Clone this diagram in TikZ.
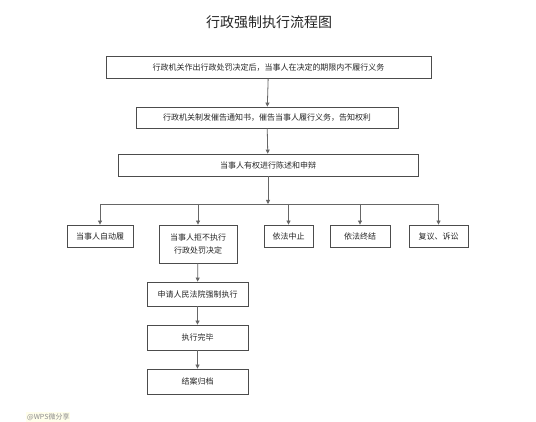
\documentclass[tikz,border=0pt]{standalone}
\usepackage{fontspec}
\setmainfont{Noto Sans CJK SC}
\usetikzlibrary{arrows.meta}
\begin{document}
\begin{tikzpicture}[x=1pt,y=-1pt,
  box/.style={draw=black!70,line width=0.8pt,fill=white,font=\fontsize{8}{10}\selectfont,text=black!85,inner sep=0pt,align=center},
  conn/.style={draw=black!60,line width=0.8pt},
  arr/.style={conn,-{Triangle[length=4pt,width=4pt]}}]
\useasboundingbox[fill=white] (0,0) rectangle (536,422);
\node[font=\fontsize{14}{16}\selectfont,text=black!85] (title) at (269,22) {行政强制执行流程图};
\node[box,minimum width=325,minimum height=21.5] (b1) at (268.5,67.5) {行政机关作出行政处罚决定后，当事人在决定的期限内不履行义务};
\node[box,minimum width=262,minimum height=21] (b2) at (267,117.5) {行政机关制发催告通知书，催告当事人履行义务，告知权利};
\node[box,minimum width=300,minimum height=22] (b3) at (268,165) {当事人有权进行陈述和申辩};
\coordinate (bus) at (268,204);
\coordinate (busL) at (100,204);
\coordinate (busR) at (438.5,204);
\node[box,minimum width=66,minimum height=22] (ba) at (100,236) {当事人自动履};
\node[box,minimum width=78,minimum height=38] (bb) at (198,244) {当事人拒不执行\\[3pt]行政处罚决定};
\node[box,minimum width=49,minimum height=22] (bc) at (288.5,236) {依法中止};
\node[box,minimum width=60,minimum height=22] (bd) at (360,236) {依法终结};
\node[box,minimum width=59,minimum height=22] (be) at (438.5,236) {复议、诉讼};
\node[box,minimum width=101,minimum height=24] (bf) at (197.5,294) {申请人民法院强制执行};
\node[box,minimum width=101,minimum height=25] (bg) at (197.5,337.5) {执行完毕};
\node[box,minimum width=101,minimum height=25] (bh) at (197.5,381.5) {结案归档};
\node[font=\fontsize{7}{8}\selectfont,text=black!45,fill=yellow!8,inner sep=1pt,anchor=west] (wm) at (26,417) {@WPS微分享};
\draw[arr] (b1) -- (b2);
\draw[arr] (b2) -- (b3);
\draw[arr] (b3) -- (bus);
\draw[conn] (busL) -- (busR);
\draw[arr] (busL) -- (ba);
\draw[arr] (bb |- bus) -- (bb);
\draw[arr] (bc |- bus) -- (bc);
\draw[arr] (bd |- bus) -- (bd);
\draw[arr] (busR) -- (be);
\draw[arr] (bb) -- (bf);
\draw[arr] (bf) -- (bg);
\draw[arr] (bg) -- (bh);
\end{tikzpicture}
\end{document}
